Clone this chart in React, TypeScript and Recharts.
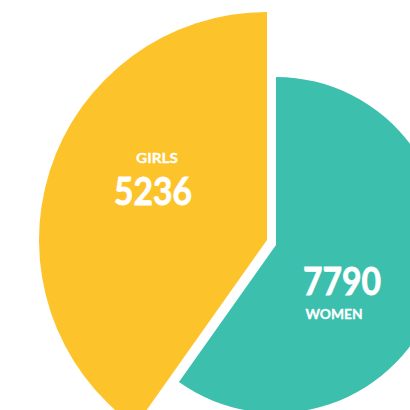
import React from "react";
import { PieChart, Pie, Cell } from "recharts";

const categories = ["GIRLS", "WOMEN"];
const values = [5236, 7790];
const colors = ["#FDC32B", "#3CBFAD"];

const data = categories.map((name, i) => ({ name, value: values[i] }));

// label offsets (px) relative to each slice's center
const LABEL_POS: Record<string, { nameDx: number; nameDy: number; valDx: number; valDy: number; nameLen: number }> = {
  GIRLS: { nameDx: -110, nameDy: -83, valDx: -114, valDy: -50, nameLen: 42 },
  WOMEN: { nameDx: 58, nameDy: 68, valDx: 66, valDy: 35, nameLen: 57 },
};

const FONT = "Lato, 'Open Sans', sans-serif";

const makeLabel = (visible: string) => (props: any) => {
  const { cx, cy, name, value } = props;
  if (name !== visible) return null;
  const p = LABEL_POS[name];
  return (
    <g>
      <text
        x={cx + p.nameDx}
        y={cy + p.nameDy}
        fill="#fff"
        stroke="#fff"
        strokeWidth={0.3}
        textAnchor="middle"
        dominantBaseline="central"
        fontFamily={FONT}
        fontWeight={700}
        fontSize={14}
        textLength={p.nameLen}
        lengthAdjust="spacingAndGlyphs"
      >
        {name}
      </text>
      <text
        x={cx + p.valDx}
        y={cy + p.valDy}
        fill="#fff"
        stroke="#fff"
        strokeWidth={0.8}
        textAnchor="middle"
        dominantBaseline="central"
        fontFamily={FONT}
        fontWeight={700}
        fontSize={38}
        textLength={78}
        lengthAdjust="spacingAndGlyphs"
      >
        {value}
      </text>
    </g>
  );
};

export default function App() {
  return (
    <div style={{ position: "fixed", left: 0, top: 0, width: 410, height: 410, background: "#fff", overflow: "hidden" }}>
      <PieChart width={410} height={410} margin={{ top: 0, right: 0, bottom: 0, left: 0 }}>
        <Pie
          data={data}
          dataKey="value"
          nameKey="name"
          cx={276}
          cy={245}
          outerRadius={168}
          innerRadius={0}
          startAngle={90}
          endAngle={450}
          stroke="none"
          isAnimationActive={false}
          labelLine={false}
          label={makeLabel("WOMEN")}
        >
          {data.map((d, i) => (
            <Cell key={d.name} fill={d.name === "WOMEN" ? colors[i] : "none"} stroke="none" />
          ))}
        </Pie>
        <Pie
          data={data}
          dataKey="value"
          nameKey="name"
          cx={267}
          cy={240}
          outerRadius={228}
          innerRadius={0}
          startAngle={90}
          endAngle={450}
          stroke="none"
          isAnimationActive={false}
          labelLine={false}
          label={makeLabel("GIRLS")}
        >
          {data.map((d, i) => (
            <Cell key={d.name} fill={d.name === "GIRLS" ? colors[i] : "none"} stroke="none" />
          ))}
        </Pie>
      </PieChart>
    </div>
  );
}
